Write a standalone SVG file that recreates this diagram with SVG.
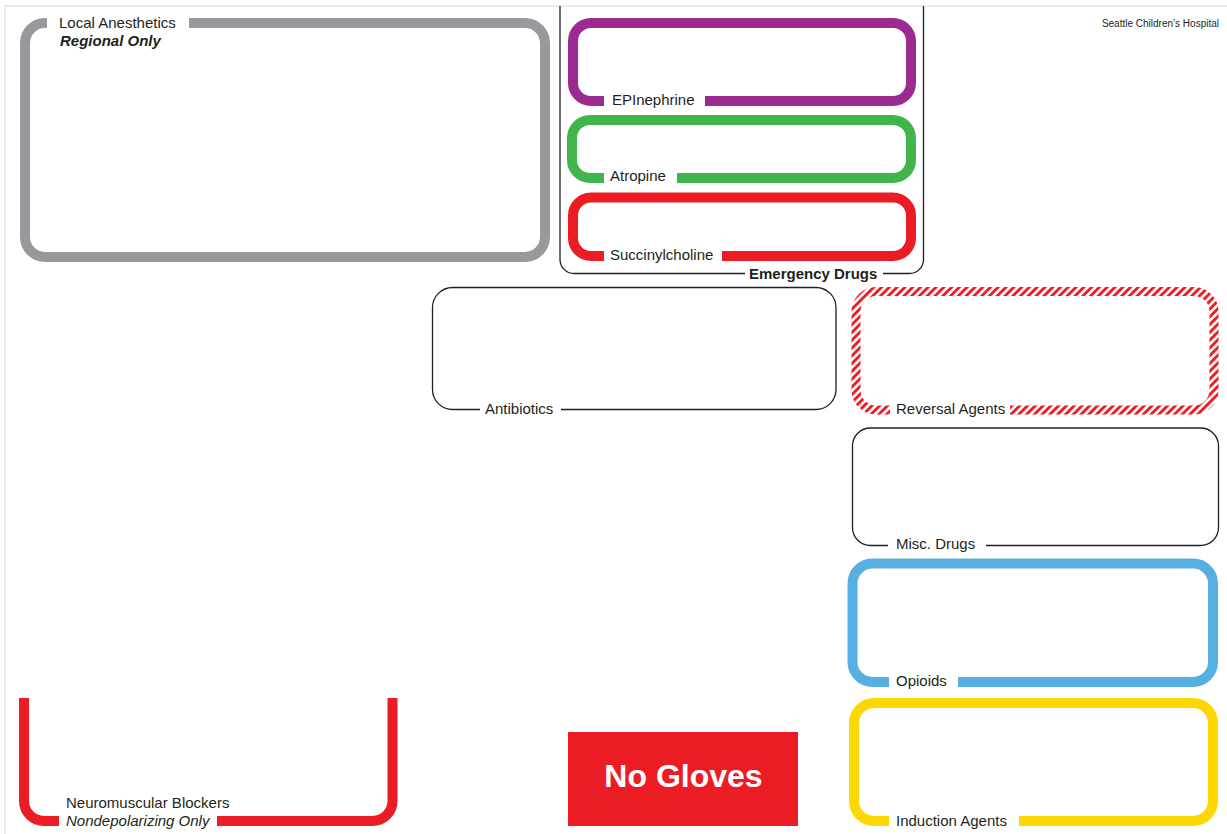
<svg xmlns="http://www.w3.org/2000/svg" width="1227" height="834" viewBox="0 0 1227 834">
  <defs>
    <pattern id="stripes" patternUnits="userSpaceOnUse" width="5.5" height="5.5" patternTransform="rotate(45)">
      <rect x="0" y="0" width="5.5" height="5.5" fill="#ffffff"/>
      <rect x="0" y="0" width="2.9" height="5.5" fill="#ec1c24"/>
    </pattern>
  </defs>
  <style>
    .lbl { font-family: "Liberation Sans", Arial, sans-serif; font-size: 15px; fill: #231f20; }
    .bold { font-weight: bold; }
    .ital { font-style: italic; }
    .thick { fill: none; stroke-width: 10; stroke-linecap: butt; }
    .thin { fill: none; stroke: #231f20; stroke-width: 1.3; }
  </style>
  <rect x="0" y="0" width="1227" height="834" fill="#ffffff"/>
  <!-- page border -->
  <g id="page-border">
    <path d="M 5 6 H 1227 M 5 6 V 834" fill="none" stroke="#e6e6e6" stroke-width="1.5"/>
  </g>
  <text class="lbl" x="1219" y="26.5" text-anchor="end" style="font-size:10px">Seattle Children’s Hospital</text>

  <g id="local-anesthetics">
    <path class="thick" stroke="#98999d" d="M 189 23 H 525 A 20 20 0 0 1 545 43 V 237 A 20 20 0 0 1 525 257 H 45 A 20 20 0 0 1 25 237 V 43 A 20 20 0 0 1 45 23 H 47"/>
    <text class="lbl" x="59" y="28">Local Anesthetics</text>
    <text class="lbl bold ital" x="60" y="46">Regional Only</text>
  </g>

  <g id="emergency-drugs">
    <path class="thin" d="M 560 6 V 259.5 A 14 14 0 0 0 574 273.5 H 745 M 883 273.5 H 909.5 A 14 14 0 0 0 923.5 259.5 V 6"/>
    <text class="lbl bold" x="749" y="279">Emergency Drugs</text>
  </g>

  <g id="epinephrine">
    <path class="thick" stroke="#9b2b90" d="M 705 101 H 893 A 18 18 0 0 0 911 83 V 41 A 18 18 0 0 0 893 23 H 591 A 18 18 0 0 0 573 41 V 83 A 18 18 0 0 0 591 101 H 604"/>
    <text class="lbl" x="612" y="105">EPInephrine</text>
  </g>

  <g id="atropine">
    <path class="thick" stroke="#3fb54b" d="M 677 178 H 893 A 18 18 0 0 0 911 160 V 138 A 18 18 0 0 0 893 120 H 590 A 18 18 0 0 0 572 138 V 160 A 18 18 0 0 0 590 178 H 604"/>
    <text class="lbl" x="610" y="181">Atropine</text>
  </g>

  <g id="succinylcholine">
    <path class="thick" stroke="#ec1c24" d="M 722 256 H 893 A 18 18 0 0 0 911 238 V 215.5 A 18 18 0 0 0 893 197.5 H 591 A 18 18 0 0 0 573 215.5 V 238 A 18 18 0 0 0 591 256 H 604"/>
    <text class="lbl" x="610" y="260">Succinylcholine</text>
  </g>

  <g id="antibiotics">
    <path class="thin" d="M 561 409.5 H 816 A 20 20 0 0 0 836 389.5 V 307.5 A 20 20 0 0 0 816 287.5 H 452.5 A 20 20 0 0 0 432.5 307.5 V 389.5 A 20 20 0 0 0 452.5 409.5 H 480"/>
    <text class="lbl" x="485" y="414">Antibiotics</text>
  </g>

  <g id="reversal-agents">
    <path fill="none" stroke="url(#stripes)" stroke-width="9" d="M 1010 410 H 1194 A 20 20 0 0 0 1214 390 V 311.5 A 20 20 0 0 0 1194 291.5 H 876 A 20 20 0 0 0 856 311.5 V 390 A 20 20 0 0 0 876 410 H 890"/>
    <text class="lbl" x="896" y="414">Reversal Agents</text>
  </g>

  <g id="misc-drugs">
    <path class="thin" d="M 986 545.5 H 1200.5 A 18 18 0 0 0 1218.5 527.5 V 446 A 18 18 0 0 0 1200.5 428 H 870.5 A 18 18 0 0 0 852.5 446 V 527.5 A 18 18 0 0 0 870.5 545.5 H 888"/>
    <text class="lbl" x="896" y="549">Misc. Drugs</text>
  </g>

  <g id="opioids">
    <path class="thick" stroke="#57aee1" d="M 958 682 H 1193 A 20 20 0 0 0 1213 662 V 583.5 A 20 20 0 0 0 1193 563.5 H 872.5 A 20 20 0 0 0 852.5 583.5 V 662 A 20 20 0 0 0 872.5 682 H 889"/>
    <text class="lbl" x="896" y="686">Opioids</text>
  </g>

  <g id="induction-agents">
    <path class="thick" stroke="#fdd800" d="M 1019 821 H 1193 A 20 20 0 0 0 1213 801 V 723 A 20 20 0 0 0 1193 703 H 874 A 20 20 0 0 0 854 723 V 801 A 20 20 0 0 0 874 821 H 889"/>
    <text class="lbl" x="896" y="826">Induction Agents</text>
  </g>

  <g id="neuromuscular-blockers">
    <path class="thick" stroke="#ec1c24" d="M 24 698 V 801 A 20 20 0 0 0 44 821 H 59 M 217 821 H 372.5 A 20 20 0 0 0 392.5 801 V 698"/>
    <text class="lbl" x="66" y="808">Neuromuscular Blockers</text>
    <text class="lbl ital" x="66" y="826">Nondepolarizing Only</text>
  </g>

  <g id="no-gloves">
    <rect x="568" y="732" width="230" height="94" fill="#ec1c24"/>
    <text x="683.5" y="787" text-anchor="middle" font-family="Liberation Sans, Arial, sans-serif" font-weight="bold" font-size="32" fill="#ffffff">No Gloves</text>
  </g>

  <g id="connectors"></g>
</svg>
